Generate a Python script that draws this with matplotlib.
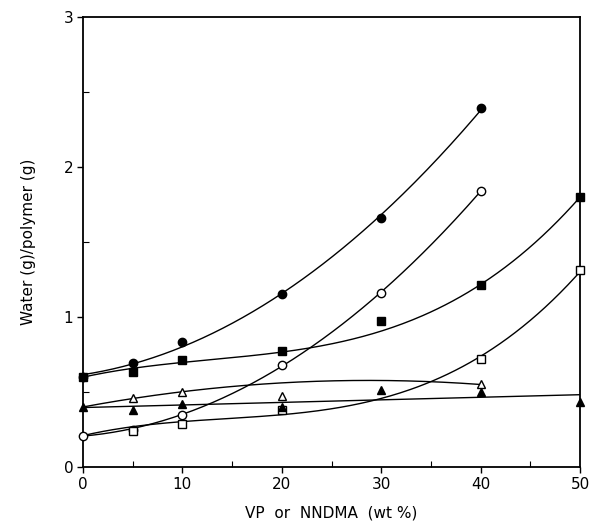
import numpy as np
import matplotlib
matplotlib.use("Agg")
from matplotlib import pyplot as plt
from matplotlib.ticker import MultipleLocator

# water uptake vs. comonomer content
x_fc = [0, 5, 10, 20, 30, 40]
y_fc = [0.60, 0.69, 0.83, 1.15, 1.66, 2.39]

x_oc = [0, 5, 10, 20, 30, 40]
y_oc = [0.21, 0.25, 0.35, 0.68, 1.16, 1.84]

x_fs = [0, 5, 10, 20, 30, 40, 50]
y_fs = [0.60, 0.63, 0.71, 0.77, 0.97, 1.21, 1.80]

x_os = [5, 10, 20, 40, 50]
y_os = [0.24, 0.29, 0.38, 0.72, 1.31]

x_ot = [5, 10, 20, 40]
y_ot = [0.46, 0.50, 0.47, 0.55]

x_ft = [0, 5, 10, 20, 30, 40, 50]
y_ft = [0.40, 0.38, 0.42, 0.40, 0.51, 0.50, 0.43]

fig = plt.figure(figsize=(5.92, 5.28), dpi=100)
ax = fig.add_axes([0.140, 0.1155, 0.840, 0.8525])


def smooth(xs, ys, deg, xmax, anchor=None, w=None):
    fx, fy = list(xs), list(ys)
    fw = list(w) if w is not None else [1.0] * len(fx)
    if anchor is not None:
        fx = [anchor[0]] + fx
        fy = [anchor[1]] + fy
        fw = [5.0] + fw
    coef = np.polyfit(fx, fy, deg, w=fw)
    xx = np.linspace(0, xmax, 200)
    ax.plot(xx, np.polyval(coef, xx), color='black', lw=1.0, zorder=2)


def points(xs, ys, m, filled):
    ax.plot(xs, ys, linestyle='none', marker=m, markersize=6,
            markerfacecolor='black' if filled else 'white',
            markeredgecolor='black', markeredgewidth=1.0, zorder=3,
            clip_on=False)


smooth(x_fc, y_fc, 2, 40)
smooth(x_oc, y_oc, 2, 40)
smooth(x_fs, y_fs, 3, 50, w=[3, 1, 1, 1, 0.2, 1, 3])
smooth(x_os, y_os, 3, 50, anchor=(0, 0.21))
smooth(x_ot, y_ot, 2, 40, anchor=(0, 0.40), w=[1, 1, 0.05, 1])
smooth(x_ft, y_ft, 1, 50)

points(x_fc, y_fc, 'o', True)
points(x_oc, y_oc, 'o', False)
points(x_fs, y_fs, 's', True)
points(x_os, y_os, 's', False)
points(x_ot, y_ot, '^', False)
points(x_ft, y_ft, '^', True)

ax.set_xlim(0, 50)
ax.set_ylim(0, 3)
ax.xaxis.set_major_locator(MultipleLocator(10))
ax.xaxis.set_minor_locator(MultipleLocator(5))
ax.yaxis.set_major_locator(MultipleLocator(1))
ax.yaxis.set_minor_locator(MultipleLocator(0.5))
ax.tick_params(which='major', direction='out', length=4, width=1.0,
               labelsize=11, pad=3)
ax.tick_params(which='minor', direction='in', length=4, width=0.8)

for s in ax.spines.values():
    s.set_linewidth(1.3)

ax.set_xlabel('VP  or  NNDMA  (wt %)', fontsize=11, labelpad=10)
ax.set_ylabel('Water (g)/polymer (g)', fontsize=11, labelpad=20)

plt.savefig('out.png', dpi=100)
